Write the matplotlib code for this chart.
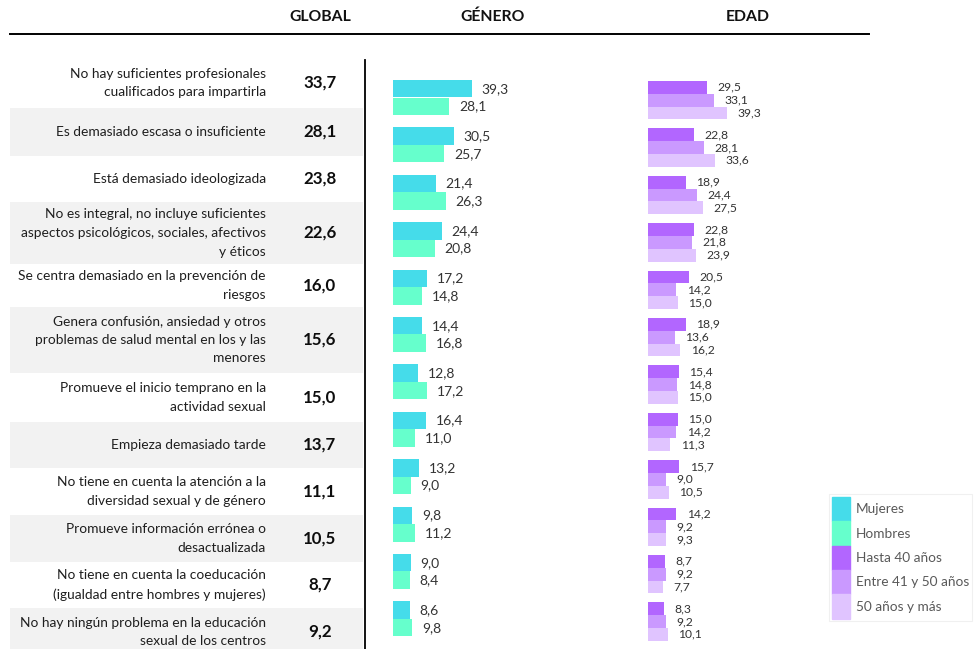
import matplotlib.pyplot as plt
from matplotlib.patches import Patch

plt.rcParams['font.family'] = ['Lato', 'DejaVu Sans']

# datos
motivos = [
    "No hay suficientes profesionales\ncualificados para impartirla",
    "Es demasiado escasa o insuficiente",
    "Está demasiado ideologizada",
    "No es integral, no incluye suficientes\naspectos psicológicos, sociales, afectivos\ny éticos",
    "Se centra demasiado en la prevención de\nriesgos",
    "Genera confusión, ansiedad y otros\nproblemas de salud mental en los y las\nmenores",
    "Promueve el inicio temprano en la\nactividad sexual",
    "Empieza demasiado tarde",
    "No tiene en cuenta la atención a la\ndiversidad sexual y de género",
    "Promueve información errónea o\ndesactualizada",
    "No tiene en cuenta la coeducación\n(igualdad entre hombres y mujeres)",
    "No hay ningún problema en la educación\nsexual de los centros",
]
glob = [33.7, 28.1, 23.8, 22.6, 16.0, 15.6, 15.0, 13.7, 11.1, 10.5, 8.7, 9.2]
mujeres = [39.3, 30.5, 21.4, 24.4, 17.2, 14.4, 12.8, 16.4, 13.2, 9.8, 9.0, 8.6]
hombres = [28.1, 25.7, 26.3, 20.8, 14.8, 16.8, 17.2, 11.0, 9.0, 11.2, 8.4, 9.8]
hasta40 = [29.5, 22.8, 18.9, 22.8, 20.5, 18.9, 15.4, 15.0, 15.7, 14.2, 8.7, 8.3]
entre41_50 = [33.1, 28.1, 24.4, 21.8, 14.2, 13.6, 14.8, 14.2, 9.0, 9.2, 9.2, 9.2]
mas50 = [39.3, 33.6, 27.5, 23.9, 15.0, 16.2, 15.0, 11.3, 10.5, 9.3, 7.7, 10.1]

series_gen = ["Mujeres", "Hombres"]
series_edad = ["Hasta 40 años", "Entre 41 y 50 años", "50 años y más"]
col_gen = ['#45DCEA', '#66FFCC']
col_edad = ['#B266FF', '#CA99FF', '#E0C4FF']

# limites de las filas (px, desde arriba)
filas = [58, 108, 156, 202, 264, 307, 373, 422, 468, 515, 562, 608, 656]

W, H = 976, 649
fig = plt.figure(figsize=(W / 100, H / 100), dpi=100)

ax0 = fig.add_axes([0, 0, 1, 1])
ax0.set_xlim(0, W)
ax0.set_ylim(H, 0)
ax0.axis('off')

def fmt(v):
    return f"{v:.1f}".replace('.', ',')

for i, txt in enumerate(motivos):
    y0, y1 = filas[i], filas[i + 1]
    if i % 2 == 1:
        ax0.axhspan(y0, y1, xmin=10 / W, xmax=363 / W, color='#F2F2F2', lw=0)
    yc = (y0 + y1) / 2
    ax0.text(266, yc, txt, ha='right', va='center', fontsize=9.9,
             color='#1f1f1f', linespacing=1.65, multialignment='right')
    ax0.text(320, yc, fmt(glob[i]), ha='center', va='center', fontsize=12.2,
             fontweight='bold', color='#0d0d0d')

# cabecera
ax0.plot([10, 869], [34, 34], color='black', lw=1.4)
ax0.plot([365, 365], [60, H], color='black', lw=1.3)
for x, t in [(320, "GLOBAL"), (493, "GÉNERO"), (748, "EDAD")]:
    ax0.text(x, 17, t, ha='center', va='center', fontsize=11.3,
             fontweight='bold', color='#111111')

# ejes de barras
esc = 2.01          # px por punto
top, paso = 73.8, 47.4
alto = paso * 12
pos = list(range(len(motivos)))

ax_g = fig.add_axes([392.7 / W, (H - top - alto) / H, 200 / W, alto / H])
ax_g.set_xlim(0, 200 / esc)
ax_g.set_ylim(11.5, -0.5)
ax_g.axis('off')
hg = 0.37
for k, vals in enumerate([mujeres, hombres]):
    yy = [p + (k - 0.5) * hg for p in pos]
    bars = ax_g.barh(yy, vals, height=hg, color=col_gen[k], lw=0)
    for b, v in zip(bars, vals):
        ax_g.annotate(fmt(v), (b.get_width(), b.get_y() + b.get_height() / 2),
                      xytext=(7, 0), textcoords='offset points',
                      ha='left', va='center', fontsize=10, color='#333333')

ax_e = fig.add_axes([647.7 / W, (H - top - alto) / H, 180 / W, alto / H])
ax_e.set_xlim(0, 180 / esc)
ax_e.set_ylim(11.5, -0.5)
ax_e.axis('off')
he = 0.27
for k, vals in enumerate([hasta40, entre41_50, mas50]):
    yy = [p + 0.057 + (k - 1) * he for p in pos]
    bars = ax_e.barh(yy, vals, height=he, color=col_edad[k], lw=0)
    for b, v in zip(bars, vals):
        ax_e.annotate(fmt(v), (b.get_width(), b.get_y() + b.get_height() / 2),
                      xytext=(7.5, 0), textcoords='offset points',
                      ha='left', va='center', fontsize=8.7, color='#333333')

# leyenda
handles = [Patch(color=c, label=l) for c, l in zip(col_gen + col_edad, series_gen + series_edad)]
leg = fig.legend(handles=handles, loc='upper left', bbox_to_anchor=(829 / W, 1 - 494 / H),
                 fontsize=9.8, frameon=True, fancybox=False, edgecolor='#EDEDED',
                 labelspacing=0.0, handlelength=1.32, handleheight=2.38,
                 handletextpad=0.45, borderpad=0.2, borderaxespad=0)
leg.get_frame().set_linewidth(0.8)
for t in leg.get_texts():
    t.set_color('#595959')

fig.savefig('out.png', dpi=100)
